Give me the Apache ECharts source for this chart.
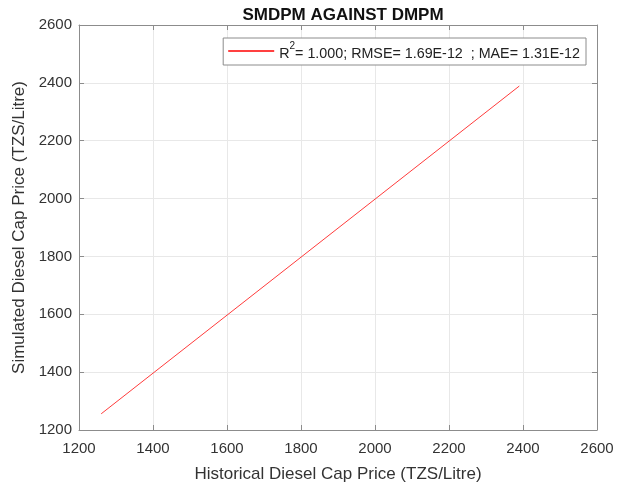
<!DOCTYPE html>
<html>
<head>
<meta charset="utf-8">
<script src="https://cdn.jsdelivr.net/npm/echarts@6/dist/echarts.min.js"></script>
<style>
  html, body { margin: 0; padding: 0; background: #fff; }
  #echarts_id { width: 629px; height: 488px; }
</style>
</head>
<body>
<div id="echarts_id"></div>
<script>
// 数据
var historical = [1260, 2390];
var simulated = [1256, 2389];
var ticks = [1200, 1400, 1600, 1800, 2000, 2200, 2400, 2600];

var pairs = historical.map(function (v, i) { return [v, simulated[i]]; });

var myChart = echarts.init(document.getElementById('echarts_id'));

var font = 'Liberation Sans, Arial, sans-serif';
var frame = { show: true, lineStyle: { color: '#8c8c8c', width: 1 } };
var inTick = { show: true, inside: true, length: 5, lineStyle: { color: '#8c8c8c' } };
var plain = function (v) { return String(v); };

option = {
    animation: false,
    title: {
        text: 'SMDPM AGAINST DMPM',
        left: 338,
        textAlign: 'center',
        top: 2,
        textStyle: { fontFamily: font, fontSize: 17, fontWeight: 'bold', color: '#111' }
    },
    legend: {
        right: 43,
        top: 38,
        orient: 'vertical',
        itemWidth: 46,
        itemHeight: 2,
        itemGap: 0,
        padding: [3, 6, 4, 5],
        borderColor: '#8c8c8c',
        borderWidth: 1,
        backgroundColor: '#fff',
        icon: 'rect',
        data: [{ name: 'fit', icon: 'rect' }],
        formatter: function () {
            return '{a|R}{sup|2}{a|= 1.000; RMSE= 1.69E-12  ; MAE= 1.31E-12}';
        },
        textStyle: {
            fontFamily: font,
            fontSize: 14.3,
            color: '#222',
            rich: {
                a: { fontFamily: font, fontSize: 14.3, color: '#222', padding: [6, 0, 0, 0] },
                sup: { fontFamily: font, fontSize: 10, color: '#222', verticalAlign: 'top', padding: [0, 0, 8, 0] }
            }
        }
    },
    grid: { left: 79, right: 32, top: 25, bottom: 55 },
    xAxis: [{
        type: 'value', min: 1200, max: 2600, interval: 200, position: 'bottom',
        name: 'Historical Diesel Cap Price (TZS/Litre)',
        nameLocation: 'middle', nameGap: 36,
        nameTextStyle: { fontFamily: font, fontSize: 17, color: '#333' },
        axisLine: frame, axisTick: inTick,
        axisLabel: { fontFamily: font, fontSize: 15, color: '#333', margin: 11, formatter: plain },
        splitLine: { show: true, lineStyle: { color: '#e8e8e8' } }
    }, {
        type: 'value', min: 1200, max: 2600, interval: 200, position: 'top',
        axisLine: frame, axisTick: inTick, axisLabel: { show: false }, splitLine: { show: false }
    }],
    yAxis: [{
        type: 'value', min: 1200, max: 2600, interval: 200, position: 'left',
        name: 'Simulated Diesel Cap Price (TZS/Litre)',
        nameLocation: 'middle', nameGap: 47,
        nameTextStyle: { fontFamily: font, fontSize: 17, color: '#333' },
        axisLine: frame, axisTick: inTick,
        axisLabel: { fontFamily: font, fontSize: 15, color: '#333', margin: 7, formatter: plain },
        splitLine: { show: true, lineStyle: { color: '#e8e8e8' } }
    }, {
        type: 'value', min: 1200, max: 2600, interval: 200, position: 'right',
        axisLine: frame, axisTick: inTick, axisLabel: { show: false }, splitLine: { show: false }
    }],
    series: [{
        name: 'fit',
        type: 'line',
        data: pairs,
        showSymbol: false,
        symbol: 'none',
        itemStyle: { color: '#ff4040' },
        lineStyle: { color: '#ff3b3b', width: 1 }
    }]
};

myChart.setOption(option);
</script>
</body>
</html>
